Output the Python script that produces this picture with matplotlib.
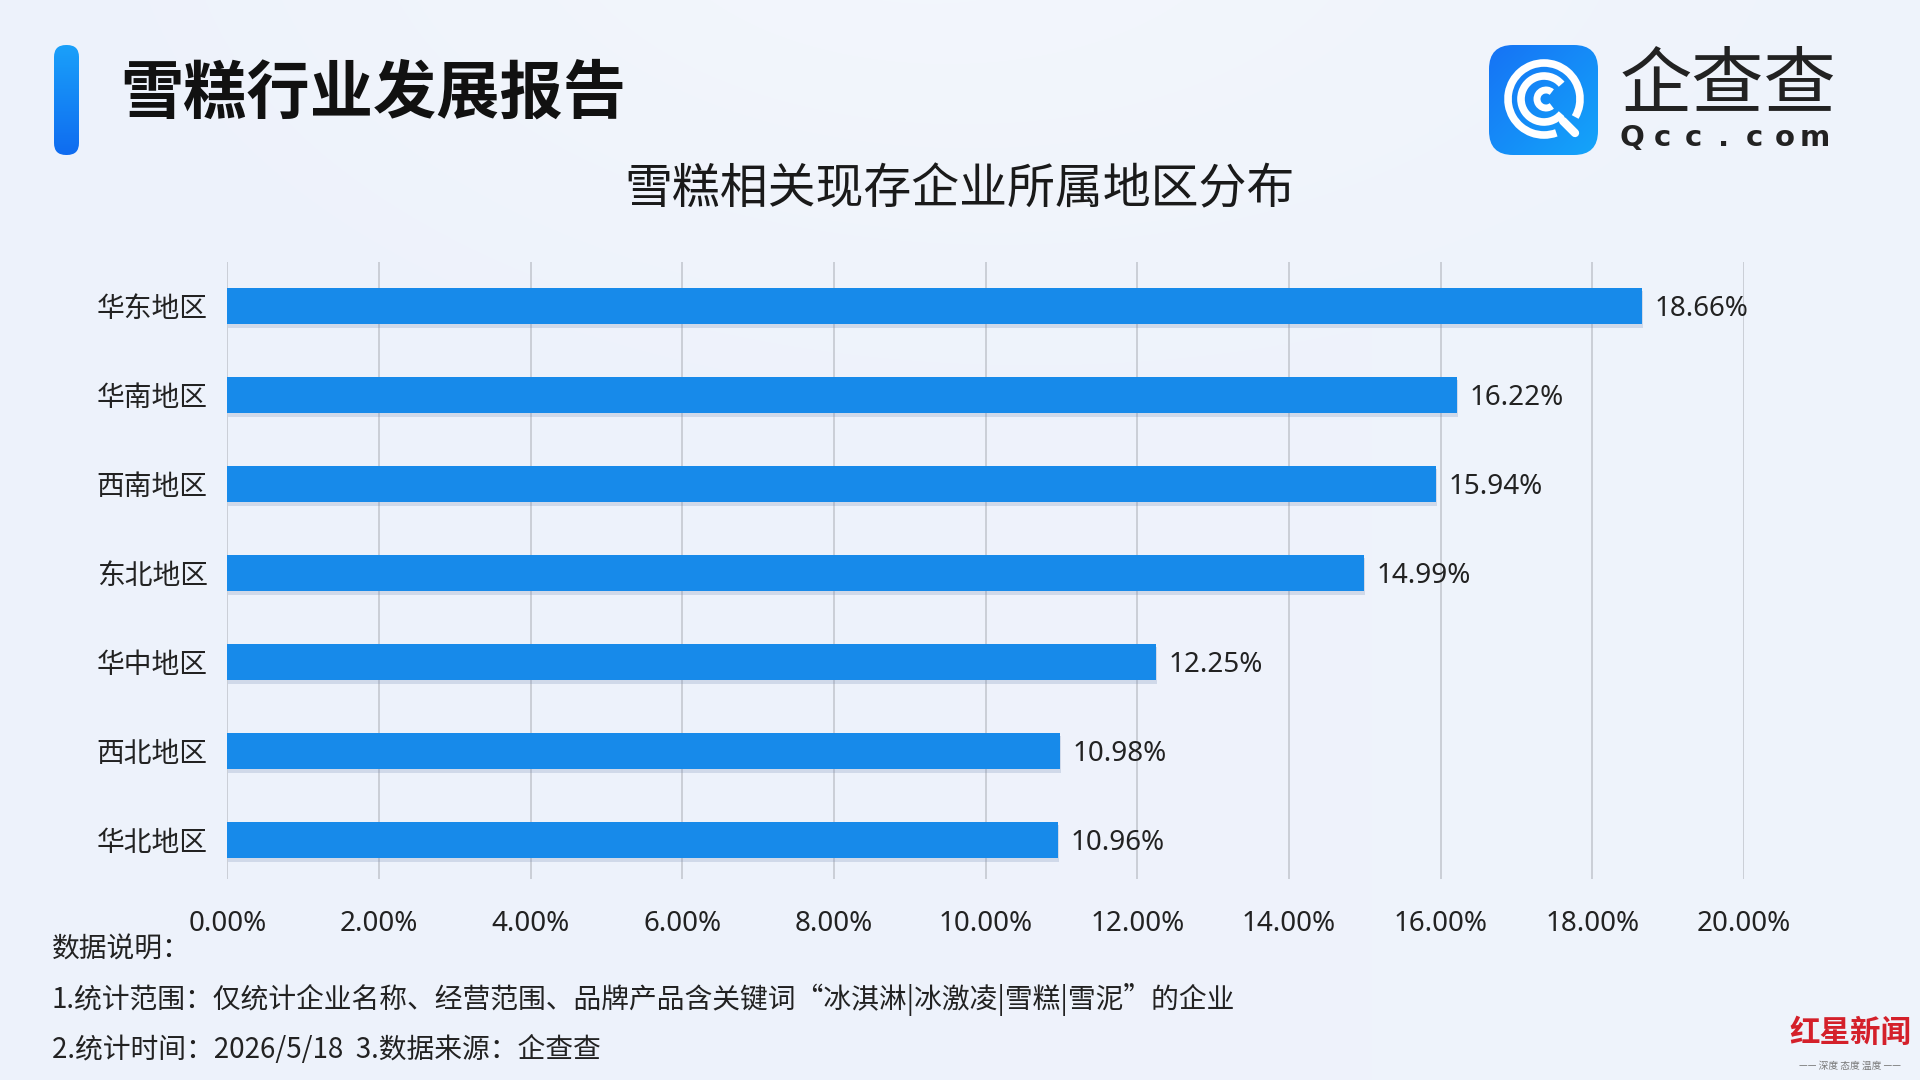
import numpy as np
import matplotlib
matplotlib.use("Agg")
import matplotlib.pyplot as plt
from matplotlib.patches import FancyBboxPatch, Arc
from matplotlib.lines import Line2D
import matplotlib.patheffects as pe

plt.rcParams['font.family'] = ['Noto Sans CJK SC', 'DejaVu Sans']
NUMFONT = ['Noto Sans', 'DejaVu Sans']

# ---- data ----
categories = ['华东地区', '华南地区', '西南地区', '东北地区', '华中地区', '西北地区', '华北地区']
values = [18.66, 16.22, 15.94, 14.99, 12.25, 10.98, 10.96]
xticks = [0, 2, 4, 6, 8, 10, 12, 14, 16, 18, 20]

main_title = '雪糕行业发展报告'
chart_title = '雪糕相关现存企业所属地区分布'
note_head = '数据说明：'
note_1 = '1.统计范围：仅统计企业名称、经营范围、品牌产品含关键词“冰淇淋|冰激凌|雪糕|雪泥”的企业'
note_2 = '2.统计时间：2026/5/18  3.数据来源：企查查'

W, H = 1920, 1080
fig = plt.figure(figsize=(19.2, 10.8), dpi=100)

# ---- background ----
bg = fig.add_axes([0, 0, 1, 1], zorder=-10)
yy, xx = np.mgrid[0:H, 0:W]
base = np.array([237, 242, 251], float) / 255
light = np.array([247, 249, 253], float) / 255
d = np.sqrt(((xx - 900) / 900.0) ** 2 + ((yy + 100) / 500.0) ** 2)
t = np.clip(1 - d, 0, 1)[..., None] * 0.6
r = np.clip((xx / W) * 0.5, 0, 1)[..., None] * 0.4
img = base * (1 - t - r) + light * (t + r)
bg.imshow(img, extent=[0, W, 0, H], origin='upper', aspect='auto')
bg.set_xlim(0, W)
bg.set_ylim(0, H)
bg.axis('off')

def Y(y):
    return H - y

# accent bar (gradient)
grad = np.linspace(0, 1, 100)[:, None]
c1 = np.array([26, 160, 250]) / 255
c2 = np.array([15, 108, 240]) / 255
gimg = c1 * (1 - grad[..., None]) + c2 * grad[..., None]
gimg = np.repeat(gimg, 10, axis=1)
im = bg.imshow(gimg, extent=[54, 79, Y(155), Y(45)], origin='upper', aspect='auto', zorder=2)
clip = FancyBboxPatch((54, Y(155)), 25, 110, boxstyle="round,pad=0,rounding_size=12",
                      transform=bg.transData, facecolor='none', edgecolor='none')
bg.add_patch(clip)
im.set_clip_path(clip)

bg.text(120, Y(94), main_title, fontsize=45.5, fontweight='heavy', color='#111111',
        ha='left', va='center')
bg.text(960, Y(190), chart_title, fontsize=34.5, color='#1a1a1a', ha='center', va='center')

# ---- logo ----
lx0, ly0, lx1, ly1 = 1489, 45, 1598, 155
lg = np.linspace(0, 1, 100)
gx, gy = np.meshgrid(lg, lg)
tt = np.clip((gx + (1 - gy)) / 2, 0, 1)[..., None]
ca = np.array([22, 115, 245]) / 255
cb = np.array([20, 165, 250]) / 255
limg = ca * (1 - tt) + cb * tt
lim = bg.imshow(limg, extent=[lx0, lx1, Y(ly1), Y(ly0)], origin='lower', aspect='auto', zorder=2)
lclip = FancyBboxPatch((lx0, Y(ly1)), lx1 - lx0, ly1 - ly0,
                       boxstyle="round,pad=0,rounding_size=24",
                       transform=bg.transData, facecolor='none', edgecolor='none')
bg.add_patch(lclip)
lim.set_clip_path(lclip)
cx, cy = 1544, Y(99)
bg.add_patch(Arc((cx, cy), 72, 72, theta1=-30, theta2=290, lw=5.5, color='white', zorder=3))
bg.add_patch(Arc((cx, cy), 46, 46, theta1=40, theta2=320, lw=5.5, color='white', zorder=3))
bg.add_patch(Arc((cx + 2, cy), 18, 18, theta1=50, theta2=310, lw=5, color='white', zorder=3))
bg.add_line(Line2D([1563, 1575], [Y(121), Y(133)], lw=6, color='white',
                   solid_capstyle='round', zorder=3))
bg.text(1728, Y(86), '企查查', fontsize=52, color='#222222', ha='center', va='center')
for i, ch in enumerate('Qcc.com'):
    bg.text(1632 + i * 30.5, Y(138), ch, fontsize=21, fontweight='bold', color='#222222',
            ha='center', va='center', family='DejaVu Sans')

# ---- notes ----
bg.text(52, Y(950), note_head, fontsize=20, color='#222222', ha='left', va='center')
bg.text(52, Y(1000), note_1, fontsize=20, color='#222222', ha='left', va='center')
bg.text(52, Y(1050), note_2, fontsize=20, color='#222222', ha='left', va='center')

# watermark
bg.text(1850, Y(1033), '红星新闻', fontsize=22, fontweight='bold', color='#d4202a',
        ha='center', va='center')
bg.text(1850, Y(1066), '—— 深度 态度 温度 ——', fontsize=7, color='#777777',
        ha='center', va='center')

# ---- chart ----
ax = fig.add_axes([227.3 / W, 1 - 879 / H, (1744 - 227.3) / W, (879 - 262) / H])
ax.patch.set_alpha(0)
ypos = np.arange(len(categories))
bars = ax.barh(ypos, values, height=0.41, color='#178AEA', zorder=3)
for b in bars:
    b.set_path_effects([pe.SimplePatchShadow(offset=(0.5, -2.5), shadow_rgbFace='#7a8fb5', alpha=0.25),
                        pe.Normal()])
for yv, v in zip(ypos, values):
    ax.annotate(f'{v:.2f}%', xy=(v, yv), xytext=(9, 0), textcoords='offset points',
                ha='left', va='center_baseline', fontsize=20, color='#222222', family=NUMFONT)
ax.set_xlim(0, 20)
ax.set_ylim(6.44, -0.494)
ax.set_yticks(ypos)
ax.set_yticklabels(categories, fontsize=20, color='#222222')
ax.set_xticks(xticks)
ax.set_xticklabels([f'{x:.2f}%' for x in xticks], fontsize=20, color='#222222', family=NUMFONT)
ax.tick_params(axis='both', length=0)
ax.tick_params(axis='x', pad=22)
ax.tick_params(axis='y', pad=14)
ax.grid(axis='x', color='#c8ccd4', lw=1.3, zorder=0)
ax.grid(axis='y', visible=False)
for s in ax.spines.values():
    s.set_visible(False)

fig.savefig('out.png', dpi=100)
